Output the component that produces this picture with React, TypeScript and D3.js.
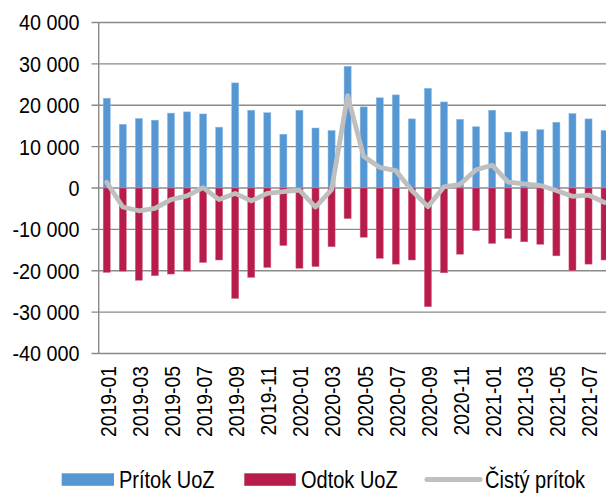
import React from "react";
import * as d3 from "d3";

const months = [
  "2019-01","2019-02","2019-03","2019-04","2019-05","2019-06","2019-07","2019-08",
  "2019-09","2019-10","2019-11","2019-12","2020-01","2020-02","2020-03","2020-04",
  "2020-05","2020-06","2020-07","2020-08","2020-09","2020-10","2020-11","2020-12",
  "2021-01","2021-02","2021-03","2021-04","2021-05","2021-06","2021-07","2021-08",
];
const inflow = [21700,15400,16800,16400,18100,18400,17900,14700,25400,18800,18200,13000,18800,14500,13900,29400,19600,21800,22500,16700,24100,20800,16600,14800,18800,13500,13700,14100,15900,18000,16700,13900];
const outflow = [-20400,-20100,-22300,-21200,-20800,-20100,-18000,-17400,-26700,-21600,-19200,-13900,-19400,-19000,-14200,-7400,-11900,-17000,-18400,-17400,-28700,-20500,-16000,-10300,-13400,-12200,-13000,-13600,-16400,-20000,-18400,-17400];
const net = [1400,-4600,-5500,-4900,-2800,-1900,100,-2800,-1300,-3100,-1300,-900,-500,-4600,-400,22300,7600,5000,4200,-600,-4500,300,900,4400,5500,1400,1000,600,-600,-2000,-1700,-3500];
const yTicks = [40000,30000,20000,10000,0,-10000,-20000,-30000,-40000];
const xLabels = months.filter((_, i) => i % 2 === 0);
const seriesNames = ["Prítok UoZ", "Odtok UoZ", "Čistý prítok"];

const W = 606, H = 494;
const BLUE = "#5597d3", RED = "#b81c4b", GRAY = "#bfbfbf", GRID = "#8a8a8a";
const FONT = "'Liberation Sans', Arial, sans-serif";

const fmt = (v: number) => {
  const s = d3.format(",")(Math.abs(v)).replace(/,/g, " ");
  return (v < 0 ? "-" : "") + s;
};

export default function App() {
  const x = d3.scaleBand<string>().domain(months).range([98.7, 612.6]).paddingInner(0.56).paddingOuter(0.28);
  const y = d3.scaleLinear().domain([-40000, 40000]).range([353.5, 22.5]);
  const cx = (m: string) => (x(m) as number) + x.bandwidth() / 2;
  const line = d3.line<number>().x((_, i) => cx(months[i])).y((d) => y(d));
  const kY = 0.9, kX = 0.88, kL = 0.87;
  return (
    <svg width={W} height={H} style={{ position: "absolute", left: 0, top: 0, background: "#fff" }} fontFamily={FONT}>
      {yTicks.map((t) => (
        <g key={t}>
          <line x1={91.5} x2={W} y1={y(t)} y2={y(t)} stroke={GRID} strokeWidth={1.4} />
          <text transform={`translate(79.5,${y(t)}) scale(${kY},1)`} dy="0.36em" textAnchor="end" fontSize={22} fill="#000">{fmt(t)}</text>
        </g>
      ))}
      <line x1={98.7} x2={98.7} y1={y(40000)} y2={y(-40000)} stroke={GRID} strokeWidth={1.4} />
      {months.map((m, i) => (
        <g key={m}>
          <rect x={x(m)} width={x.bandwidth()} y={y(inflow[i])} height={y(0) - y(inflow[i])} fill={BLUE} stroke="#8fbbe6" strokeWidth={0.5} />
          <rect x={x(m)} width={x.bandwidth()} y={y(0)} height={y(outflow[i]) - y(0)} fill={RED} stroke="#d36a8a" strokeWidth={0.5} />
        </g>
      ))}
      <path d={line(net) || ""} fill="none" stroke={GRAY} strokeWidth={4.8} strokeLinejoin="round" strokeLinecap="round" />
      {xLabels.map((m) => (
        <text key={m} transform={`translate(${cx(m) + 1},366) rotate(-90) scale(${kX},1)`} dy="0.36em" textAnchor="end" fontSize={22} fill="#000">{m}</text>
      ))}
      <g>
        <rect x={61.7} y={473.3} width={52.3} height={12.5} fill={BLUE} />
        <text transform={`translate(119,487.5) scale(${kL},1)`} fontSize={23} fill="#000">{seriesNames[0]}</text>
        <rect x={244.3} y={473.3} width={51.5} height={12.5} fill={RED} />
        <text transform={`translate(301,487.5) scale(${kL},1)`} fontSize={23} fill="#000">{seriesNames[1]}</text>
        <line x1={427} x2={480} y1={479.5} y2={479.5} stroke={GRAY} strokeWidth={5} strokeLinecap="round" />
        <text transform={`translate(485,487.5) scale(${kL},1)`} fontSize={23} fill="#000">{seriesNames[2]}</text>
      </g>
    </svg>
  );
}
